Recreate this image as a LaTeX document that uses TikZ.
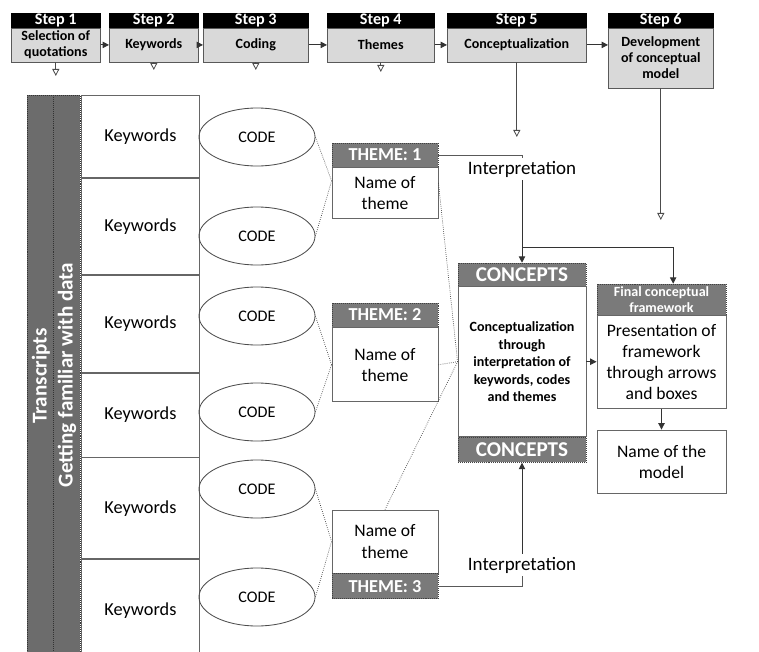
\documentclass[tikz,border=0pt]{standalone}
\usepackage{fontspec}
\setmainfont{Carlito}
\usetikzlibrary{positioning,shapes.geometric,arrows.meta,calc}
\definecolor{HeadGray}{RGB}{122,122,122}
\definecolor{BarGray}{RGB}{108,108,108}
\definecolor{StepGray}{RGB}{217,217,217}
\tikzset{
  stephead/.style={draw=black, fill=black, text=white, font=\fontsize{11.5}{12}\selectfont\bfseries, minimum height=0.35cm, text height=8pt, text depth=2pt, inner sep=0pt, anchor=north west},
  stepbody/.style={draw=black!65, fill=StepGray, font=\fontsize{10}{11.5}\selectfont\bfseries, minimum height=0.85cm, inner sep=0pt, align=center},
  bar/.style={fill=BarGray, draw=black!80, densely dotted},
  bartext/.style={rotate=90, text=white, font=\fontsize{15}{15}\selectfont\bfseries},
  kwbox/.style={draw=black!60, line width=0.6pt, minimum width=2.95cm, inner sep=0pt, font=\fontsize{13}{15}\selectfont},
  codeell/.style={ellipse, draw=black!70, line width=0.6pt, minimum width=2.9cm, minimum height=1.45cm, inner sep=0pt, font=\fontsize{11.5}{12}\selectfont},
  themehead/.style={draw=black!75, densely dotted, fill=HeadGray, text=white, font=\fontsize{13}{14}\selectfont\bfseries, minimum width=2.65cm, minimum height=0.6cm, inner sep=0pt},
  themebody/.style={draw=black!60, line width=0.6pt, fill=white, minimum width=2.65cm, align=center, inner sep=0pt, font=\fontsize{12.5}{15}\selectfont},
  conhead/.style={draw=black!75, densely dotted, fill=HeadGray, text=white, font=\fontsize{15}{16}\selectfont\bfseries, minimum width=3.2cm, inner sep=0pt},
  conbody/.style={draw=black!60, line width=0.6pt, minimum width=3.2cm, minimum height=3.75cm, align=center, inner sep=0pt, font=\fontsize{10}{12.5}\selectfont\bfseries},
  fwbox/.style={draw=black!60, line width=0.6pt, minimum width=3.225cm, align=center, inner sep=0pt, font=\fontsize{12.5}{15}\selectfont},
  interp/.style={font=\fontsize{13.5}{14}\selectfont, inner sep=2pt},
  conn/.style={draw=black!65, line width=0.6pt},
  arr/.style={-{Triangle[length=4.5pt,width=4.5pt]}, draw=black!80, line width=0.6pt},
  downarr/.style={-{Triangle[open,length=5pt,width=5pt]}, draw=black!70, line width=0.6pt},
  dot/.style={draw=black!75, densely dotted, line width=0.5pt}
}
\begin{document}
\begin{tikzpicture}[x=0.025cm,y=-0.025cm]
\useasboundingbox (0,0) rectangle (759,652);

\node[stephead, minimum width=2.225cm] (h1) at (11,13) {Step 1};
\node[stepbody, minimum width=2.225cm, below=0pt of h1] (s1) {Selection of\\quotations};
\node[stephead, minimum width=2.225cm] (h2) at (109,13) {Step 2};
\node[stepbody, minimum width=2.225cm, below=0pt of h2] (s2) {Keywords};
\node[stephead, minimum width=2.625cm] (h3) at (203,13) {Step 3};
\node[stepbody, minimum width=2.625cm, below=0pt of h3] (s3) {Coding};
\node[stephead, minimum width=2.675cm] (h4) at (327,13) {Step 4};
\node[stepbody, minimum width=2.675cm, below=0pt of h4] (s4) {Themes};
\node[stephead, minimum width=3.475cm] (h5) at (447,13) {Step 5};
\node[stepbody, minimum width=3.475cm, below=0pt of h5] (s5) {Conceptualization};
\node[stephead, minimum width=2.625cm] (h6) at (608,13) {Step 6};
\node[stepbody, minimum width=2.625cm, minimum height=1.5cm, below=0pt of h6] (s6) {Development\\of conceptual\\model};

\draw[arr] (s1) -- (s2);
\draw[arr] (s2) -- (s3);
\draw[arr] (s3) -- (s4);
\draw[arr] (s4) -- (s5);
\draw[arr] (s5) -- (s5 -| s6.west);

\coordinate (d1) at (s1.south |- 0,76);
\coordinate (d2) at (s2.south |- 0,70);
\coordinate (d3) at (s3.south |- 0,70);
\coordinate (d4) at (s4.south |- 0,72);
\coordinate (d5) at (s5.south |- 0,137);
\coordinate (d6) at (s6.south |- 0,220);
\draw[downarr] (s1.south) -- (d1);
\draw[downarr] (s2.south) -- (d2);
\draw[downarr] (s3.south) -- (d3);
\draw[downarr] (s4.south) -- (d4);
\draw[downarr] (s5.south) -- (d5);
\draw[downarr] (s6.south) -- (d6);

\draw[bar] (27,95) rectangle (53,662);
\draw[bar] (53,95) rectangle (80,662);
\node[bartext] (tr) at (41,376) {Transcripts};
\node[bartext] (gf) at (67,375) {Getting familiar with data};

\node[kwbox, minimum height=2.05cm, anchor=north west] (k1) at (81,95) {Keywords};
\node[kwbox, minimum height=2.4cm, below=0pt of k1] (k2) {Keywords};
\node[kwbox, minimum height=2.425cm, below=0pt of k2] (k3) {Keywords};
\node[kwbox, minimum height=2.1cm, below=0pt of k3] (k4) {Keywords};
\node[kwbox, minimum height=2.525cm, below=0pt of k4] (k5) {Keywords};
\node[kwbox, minimum height=2.55cm, below=0pt of k5] (k6) {Keywords};

\node[codeell] (c1) at (257,137) {CODE};
\node[codeell] (c2) at (257,236) {CODE};
\node[codeell] (c3) at (257,316) {CODE};
\node[codeell] (c4) at (257,412) {CODE};
\node[codeell] (c5) at (257,489) {CODE};
\node[codeell] (c6) at (257,597) {CODE};

\node[themehead] (t1h) at (385,155) {THEME: 1};
\node[themebody, minimum height=1.275cm, below=0pt of t1h] (t1b) {Name of\\theme};
\node[themehead] (t2h) at (385,315) {THEME: 2};
\node[themebody, minimum height=1.85cm, below=0pt of t2h] (t2b) {Name of\\theme};
\node[themebody, minimum height=1.575cm] (t3b) at (385,541.5) {Name of\\theme};
\node[themehead, minimum height=0.625cm, below=0pt of t3b] (t3h) {THEME: 3};

\node[conhead, minimum height=0.575cm] (ch) at (522,274.5) {CONCEPTS};
\node[conbody, below=0pt of ch] (cb) {Conceptualization\\through\\interpretation of\\keywords, codes\\and themes};
\node[conhead, minimum height=0.625cm, below=0pt of cb] (cf) {CONCEPTS};

\node[conhead, minimum width=3.225cm, minimum height=0.775cm, font=\fontsize{10}{11.5}\selectfont\bfseries, align=center] (fh) at (661.5,299.5) {Final conceptual\\framework};
\node[fwbox, minimum height=2.325cm, below=0pt of fh] (fb) {Presentation of\\framework\\through arrows\\and boxes};
\node[fwbox, minimum height=1.575cm] (mb) at (661.5,461.5) {Name of the\\model};

\draw[dot] (c1.east) -- ($(t1h.north west)!0.5!(t1b.south west)$);
\draw[dot] (c2.east) -- ($(t1h.north west)!0.5!(t1b.south west)$);
\draw[dot] (c3.east) -- (t2b.west);
\draw[dot] (c4.east) -- (t2b.west);
\draw[dot] (c5.east) -- (t3b.west);
\draw[dot] (c6.east) -- (t3b.west);
\draw[dot] ($(t1b.north east)!0.3!(t1b.south east)$) -- (cb.west);
\draw[dot] (t2b.east) -- (cb.west);
\draw[dot] (t3b.north) -- (cb.west);

\node[interp] (i1) at (522,169) {Interpretation};
\node[interp] (i2) at (522,565) {Interpretation};
\draw[conn] (t1h.east) -| (i1.north);
\draw[arr] (i1.south) -- (ch.north);
\coordinate (br) at (i1.south |- 0,247);
\draw[arr] (br) -| ($(fh.north west)!0.59!(fh.north east)$);
\draw[conn] (t3h.east) -| (i2.south);
\draw[arr] (i2.north) -- (cf.south);
\draw[arr] (cb.east) -- (cb.east -| fb.west);
\draw[arr] (fb.south) -- (mb.north);
\end{tikzpicture}
\end{document}
